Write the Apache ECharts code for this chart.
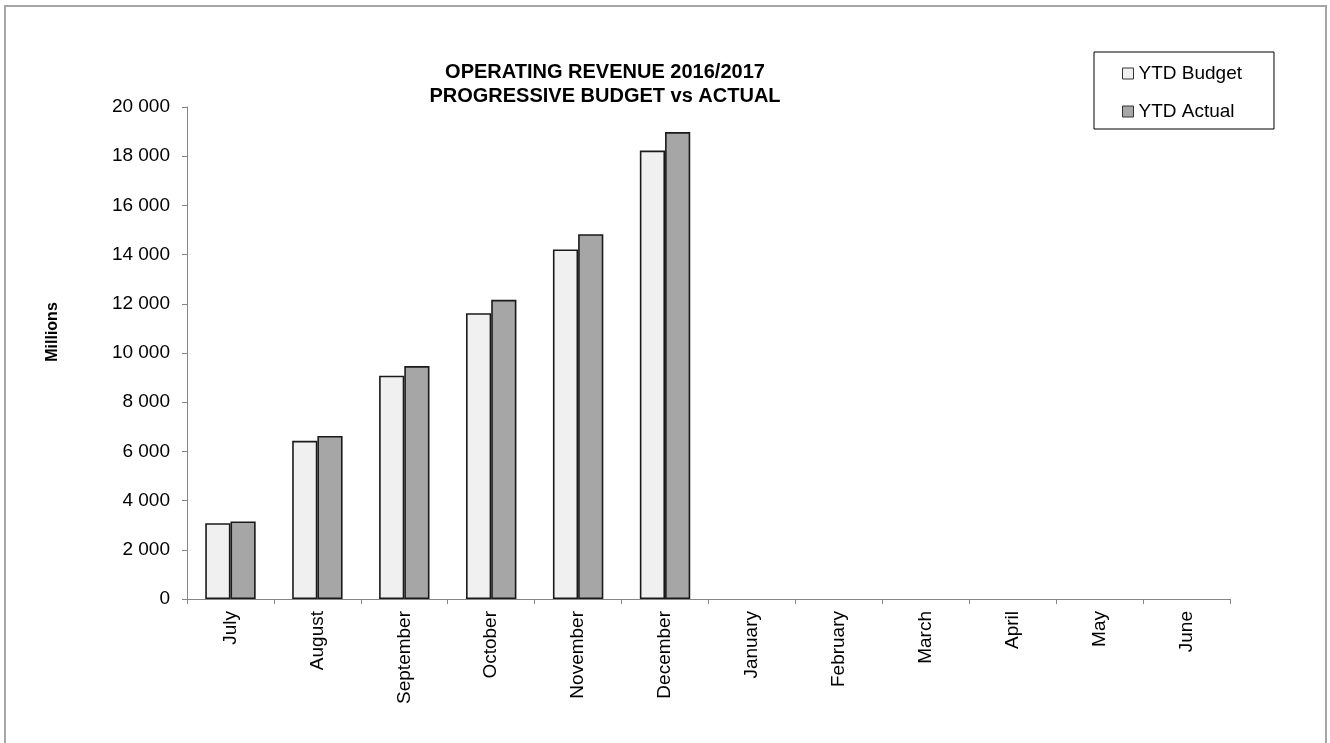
<!DOCTYPE html>
<html>
<head>
<meta charset="utf-8">
<title>Operating Revenue 2016/2017</title>
<script src="https://cdn.jsdelivr.net/npm/echarts@6/dist/echarts.min.js"></script>
<style>
  html, body { margin: 0; padding: 0; background: #fff; }
  #chart { width: 1330px; height: 743px; }
</style>
</head>
<body>
<div id="chart"></div>
<script>
// months of the financial year
const months = ["July", "August", "September", "October", "November", "December",
  "January", "February", "March", "April", "May", "June"];
// YTD values in millions (only first half reported)
const ytdBudget = [3080, 6430, 9080, 11620, 14210, 18230, null, null, null, null, null, null];
const ytdActual = [3150, 6630, 9470, 12160, 14830, 18980, null, null, null, null, null, null];
const yMax = 20000;
const yStep = 2000;

const font = "Liberation Sans";

const myChart = echarts.init(document.getElementById("chart"));

const option = {
  animation: false,
  backgroundColor: "#fff",
  title: {
    text: "OPERATING REVENUE 2016/2017\nPROGRESSIVE BUDGET vs ACTUAL",
    left: 600,
    top: 55,
    textAlign: "center",
    textStyle: {
      fontFamily: font,
      fontSize: 20,
      fontWeight: "bold",
      color: "#000",
      lineHeight: 24,
    },
  },
  legend: {
    orient: "vertical",
    left: 1094,
    top: 52,
    padding: [12, 32, 8, 28],
    itemGap: 19,
    itemWidth: 11,
    itemHeight: 11,
    borderColor: "#000",
    borderWidth: 1,
    textStyle: { fontFamily: font, fontSize: 19, color: "#000" },
    data: [
      { name: "YTD Budget", icon: "rect", itemStyle: { color: "#f0f0f0", borderColor: "#333", borderWidth: 1 } },
      { name: "YTD Actual", icon: "rect", itemStyle: { color: "#a6a6a6", borderColor: "#333", borderWidth: 1 } },
    ],
  },
  grid: {
    left: 187,
    right: 100,
    top: 107,
    bottom: 144,
  },
  xAxis: {
    type: "category",
    data: months,
    axisLine: { lineStyle: { color: "#868686", width: 1 } },
    axisTick: { show: true, length: 5, lineStyle: { color: "#868686" } },
    axisLabel: {
      rotate: 90,
      margin: 12,
      interval: 0,
      fontFamily: font,
      fontSize: 19,
      color: "#000",
    },
    splitLine: { show: false },
  },
  yAxis: {
    type: "value",
    min: 0,
    max: yMax,
    interval: yStep,
    axisLine: { show: true, lineStyle: { color: "#868686", width: 1 } },
    axisTick: { show: true, length: 5, lineStyle: { color: "#868686" } },
    axisLabel: {
      margin: 17,
      fontFamily: font,
      fontSize: 19,
      color: "#000",
      formatter: (v) => String(v).replace(/\B(?=(\d{3})+(?!\d))/g, " "),
    },
    splitLine: { show: false },
  },
  series: [
    {
      name: "YTD Budget",
      type: "bar",
      data: ytdBudget,
      barGap: "0%",
      barCategoryGap: "42%",
      itemStyle: { color: "#f0f0f0", borderColor: "#1a1a1a", borderWidth: 1.6 },
    },
    {
      name: "YTD Actual",
      type: "bar",
      data: ytdActual,
      barGap: "0%",
      barCategoryGap: "42%",
      itemStyle: { color: "#a6a6a6", borderColor: "#1a1a1a", borderWidth: 1.6 },
    },
  ],
  graphic: [
    {
      type: "rect",
      silent: true,
      z: -1,
      shape: { x: 5, y: 6, width: 1321, height: 800 },
      style: { fill: "none", stroke: "#a6a6a6", lineWidth: 2 },
    },
    {
      type: "text",
      silent: true,
      x: 53,
      y: 332,
      rotation: Math.PI / 2,
      style: {
        text: "Millions",
        fontFamily: font,
        fontSize: 16,
        fontWeight: "bold",
        fill: "#000",
        align: "center",
        verticalAlign: "middle",
      },
    },
  ],
};

myChart.setOption(option);
</script>
</body>
</html>
